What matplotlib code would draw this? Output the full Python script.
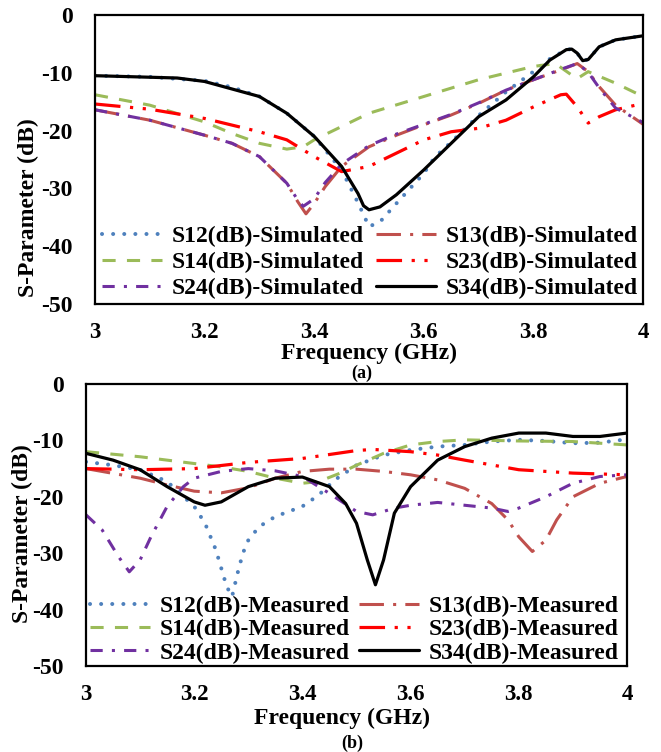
import numpy as np
import matplotlib
matplotlib.use('Agg')
import matplotlib.pyplot as plt

plt.rcParams['font.family'] = ['Liberation Serif', 'DejaVu Serif']
plt.rcParams['font.weight'] = 'bold'
plt.rcParams['axes.unicode_minus'] = False

# ---- (a) simulated ----
sim_s12_f = [3.0, 3.1, 3.2, 3.25, 3.3, 3.35, 3.4, 3.45, 3.48, 3.5, 3.52, 3.55, 3.6, 3.62, 3.65, 3.7, 3.75, 3.8, 3.83, 3.86, 3.87, 3.88, 3.89, 3.9, 3.92, 3.95, 4.0]
sim_s12 = [-10.5, -10.7, -11.4, -12.5, -14.1, -17.0, -21.0, -26.8, -32.5, -36.6, -35.8, -32.6, -27.4, -24.6, -22.0, -17.4, -13.3, -9.8, -7.6, -6.0, -5.9, -6.6, -7.9, -7.7, -5.5, -4.3, -3.6]
sim_s13_f = [3.0, 3.1, 3.2, 3.25, 3.3, 3.35, 3.37, 3.385, 3.4, 3.42, 3.45, 3.5, 3.55, 3.6, 3.65, 3.7, 3.75, 3.8, 3.85, 3.88, 3.9, 3.92, 3.95, 4.0]
sim_s13 = [-16.4, -18.2, -20.8, -22.2, -24.5, -29.1, -32.3, -34.4, -32.6, -29.7, -26.2, -22.8, -20.8, -19.0, -17.3, -15.3, -13.0, -11.2, -9.5, -8.4, -9.8, -12.4, -15.6, -18.9]
sim_s14_f = [3.0, 3.1, 3.2, 3.25, 3.3, 3.35, 3.38, 3.4, 3.45, 3.5, 3.6, 3.7, 3.8, 3.84, 3.87, 3.88, 3.9, 3.95, 4.0]
sim_s14 = [-13.8, -15.6, -18.5, -20.5, -22.2, -23.2, -22.8, -21.6, -19.3, -17.0, -14.1, -11.2, -8.9, -8.4, -10.4, -11.0, -9.8, -11.8, -14.1]
sim_s23_f = [3.0, 3.1, 3.2, 3.3, 3.35, 3.4, 3.45, 3.5, 3.55, 3.6, 3.65, 3.7, 3.75, 3.8, 3.85, 3.86, 3.88, 3.9, 3.92, 3.95, 4.0]
sim_s23 = [-15.4, -16.3, -17.9, -20.2, -21.6, -24.5, -27.1, -26.2, -23.9, -21.6, -20.2, -19.6, -18.2, -15.9, -13.8, -13.7, -15.9, -18.7, -17.6, -16.4, -15.3]
sim_s24_f = [3.0, 3.1, 3.2, 3.25, 3.3, 3.35, 3.37, 3.38, 3.4, 3.42, 3.45, 3.5, 3.55, 3.6, 3.65, 3.7, 3.75, 3.8, 3.85, 3.88, 3.9, 3.92, 3.95, 4.0]
sim_s24 = [-16.4, -18.2, -20.8, -22.2, -24.5, -29.1, -32.0, -33.1, -31.8, -29.0, -25.8, -22.6, -20.6, -18.9, -17.2, -15.2, -13.0, -11.2, -9.4, -8.4, -9.9, -12.6, -16.1, -18.6]
sim_s34_f = [3.0, 3.15, 3.2, 3.3, 3.35, 3.4, 3.45, 3.48, 3.49, 3.5, 3.52, 3.55, 3.6, 3.65, 3.7, 3.75, 3.8, 3.83, 3.86, 3.87, 3.88, 3.89, 3.9, 3.92, 3.95, 4.0]
sim_s34 = [-10.5, -10.9, -11.5, -14.1, -17.0, -21.0, -26.2, -30.9, -33.0, -33.7, -33.2, -31.1, -26.8, -22.2, -17.6, -14.7, -10.7, -7.8, -6.0, -5.9, -6.6, -7.9, -7.7, -5.5, -4.3, -3.6]

# ---- (b) measured ----
mea_s12_f = [3.0, 3.05, 3.1, 3.15, 3.2, 3.22, 3.24, 3.26, 3.27, 3.28, 3.29, 3.3, 3.32, 3.35, 3.4, 3.43, 3.46, 3.5, 3.55, 3.6, 3.65, 3.7, 3.75, 3.8, 3.85, 3.9, 3.95, 4.0]
mea_s12 = [-13.8, -14.4, -15.2, -17.3, -21.7, -24.7, -29.4, -35.9, -37.7, -33.6, -30.0, -27.7, -25.3, -23.5, -21.7, -19.7, -17.0, -14.4, -12.6, -11.7, -11.1, -10.8, -10.2, -9.9, -10.1, -10.5, -10.4, -9.8]
mea_s13_f = [3.0, 3.1, 3.15, 3.2, 3.25, 3.3, 3.35, 3.4, 3.45, 3.5, 3.55, 3.6, 3.65, 3.7, 3.75, 3.78, 3.8, 3.825, 3.85, 3.87, 3.9, 3.95, 4.0]
mea_s13 = [-15.0, -16.7, -17.9, -19.0, -19.3, -18.4, -16.7, -15.5, -15.1, -15.1, -15.5, -16.1, -17.0, -18.5, -21.2, -24.1, -27.1, -29.7, -27.7, -24.1, -20.0, -17.6, -16.4]
mea_s14_f = [3.0, 3.1, 3.2, 3.25, 3.3, 3.35, 3.4, 3.43, 3.47, 3.5, 3.55, 3.6, 3.65, 3.7, 3.8, 3.9, 4.0]
mea_s14 = [-12.0, -12.9, -14.1, -14.7, -15.5, -16.7, -17.6, -17.3, -15.8, -14.4, -12.3, -10.8, -10.2, -9.9, -10.1, -10.2, -10.8]
mea_s23_f = [3.0, 3.1, 3.2, 3.3, 3.4, 3.5, 3.53, 3.6, 3.65, 3.7, 3.8, 3.9, 4.0]
mea_s23 = [-15.0, -15.2, -15.0, -13.9, -13.2, -11.8, -11.6, -12.0, -12.6, -13.5, -15.2, -15.8, -16.1]
mea_s24_f = [3.0, 3.03, 3.06, 3.08, 3.1, 3.12, 3.15, 3.18, 3.2, 3.25, 3.3, 3.35, 3.4, 3.45, 3.5, 3.53, 3.57, 3.6, 3.65, 3.7, 3.75, 3.78, 3.8, 3.85, 3.9, 3.95, 4.0]
mea_s24 = [-23.2, -25.9, -30.6, -33.3, -31.2, -27.1, -21.7, -18.2, -16.7, -15.5, -15.0, -15.4, -16.4, -19.4, -22.6, -23.2, -22.0, -21.5, -21.0, -21.5, -22.0, -22.6, -22.0, -20.0, -17.6, -16.4, -16.1]
mea_s34_f = [3.0, 3.05, 3.1, 3.15, 3.2, 3.22, 3.25, 3.3, 3.35, 3.4, 3.45, 3.48, 3.5, 3.52, 3.535, 3.55, 3.57, 3.6, 3.65, 3.7, 3.75, 3.8, 3.85, 3.9, 3.95, 4.0]
mea_s34 = [-12.3, -13.5, -15.2, -18.2, -20.9, -21.5, -20.9, -18.2, -16.7, -16.5, -18.2, -21.2, -24.7, -31.2, -35.6, -31.2, -22.9, -18.2, -13.5, -11.1, -9.6, -8.7, -8.7, -9.3, -9.3, -8.7]

fs = 17
# colour, dash pattern (in linewidths), linewidth, capstyle
styles = [
    ('#4F81BD', (0, (0.01, 2.75)), 2.9, 'round'),
    ('#C0504D', (0, (8, 3, 1, 3)), 2.2, 'butt'),
    ('#9BBB59', (0, (4.3, 3.7)), 2.2, 'butt'),
    ('#FF0000', (0, (8, 3, 1, 3, 1, 3)), 2.3, 'butt'),
    ('#7030A0', (0, (4, 3, 1, 3)), 2.2, 'butt'),
    ('black', '-', 2.3, 'butt'),
]


def draw(ax, series, suffix, ylab_pos, xlab_pos, leg_x, lspace, bpad, cspace):
    names = ['S12', 'S13', 'S14', 'S23', 'S24', 'S34']
    lines = []
    for (f, v), name, (c, ls, lw, cap) in zip(series, names, styles):
        ln, = ax.plot(f, v, color=c, linestyle=ls, linewidth=lw,
                      dash_capstyle=cap, solid_capstyle='round',
                      label=name + '(dB)-' + suffix)
        lines.append(ln)
    ax.set_xlim(3, 4)
    ax.set_ylim(-50, 0)
    ax.set_xticks([3, 3.2, 3.4, 3.6, 3.8, 4])
    ax.set_xticklabels(['3', '3.2', '3.4', '3.6', '3.8', '4'])
    ax.set_yticks([0, -10, -20, -30, -40, -50])
    ax.set_yticklabels(['0', '-10', '-20', '-30', '-40', '-50'])
    ax.tick_params(axis='x', length=0, labelsize=fs - 0.5, pad=13)
    ax.tick_params(axis='y', length=0, labelsize=fs, pad=16)
    for lab in ax.get_xticklabels() + ax.get_yticklabels():
        lab.set_fontweight('bold')
    for sp in ax.spines.values():
        sp.set_linewidth(1.6)
    ax.set_ylabel('S-Parameter (dB)', fontsize=fs, fontweight='bold', va='center')
    ax.yaxis.set_label_coords(*ylab_pos)
    ax.set_xlabel('Frequency (GHz)', fontsize=fs, fontweight='bold', va='center')
    ax.xaxis.set_label_coords(*xlab_pos)
    order = [0, 2, 4, 1, 3, 5]
    ax.legend([lines[i] for i in order], [lines[i].get_label() for i in order],
              ncol=2, loc='lower left', bbox_to_anchor=(leg_x, 0.0),
              frameon=False, handlelength=2.55,
              handletextpad=0.4, columnspacing=cspace, labelspacing=lspace,
              borderpad=bpad, borderaxespad=0.1,
              prop={'weight': 'bold', 'size': fs})


fig = plt.figure(figsize=(6.61, 7.52), dpi=100)
ax1 = fig.add_axes([95 / 661, 1 - 304 / 752, 548 / 661, 289 / 752])
ax2 = fig.add_axes([86 / 661, 1 - 666 / 752, 541 / 661, 282 / 752])

draw(ax1, [(sim_s12_f, sim_s12), (sim_s13_f, sim_s13), (sim_s14_f, sim_s14),
           (sim_s23_f, sim_s23), (sim_s24_f, sim_s24), (sim_s34_f, sim_s34)],
     'Simulated', (-0.122, 0.334), (0.5, -0.172), 0.004, 0.19, 0.1, 0.5)
draw(ax2, [(mea_s12_f, mea_s12), (mea_s13_f, mea_s13), (mea_s14_f, mea_s14),
           (mea_s23_f, mea_s23), (mea_s24_f, mea_s24), (mea_s34_f, mea_s34)],
     'Measured', (-0.118, 0.47), (0.473, -0.187), 0.003, 0.08, 0.0, 0.4)

fig.text(362 / 661, 1 - 373 / 752, '(a)', ha='center', va='center', fontsize=13, fontweight='bold')
fig.text(352 / 661, 1 - 743 / 752, '(b)', ha='center', va='center', fontsize=13, fontweight='bold')

fig.savefig('out.png', dpi=100)
